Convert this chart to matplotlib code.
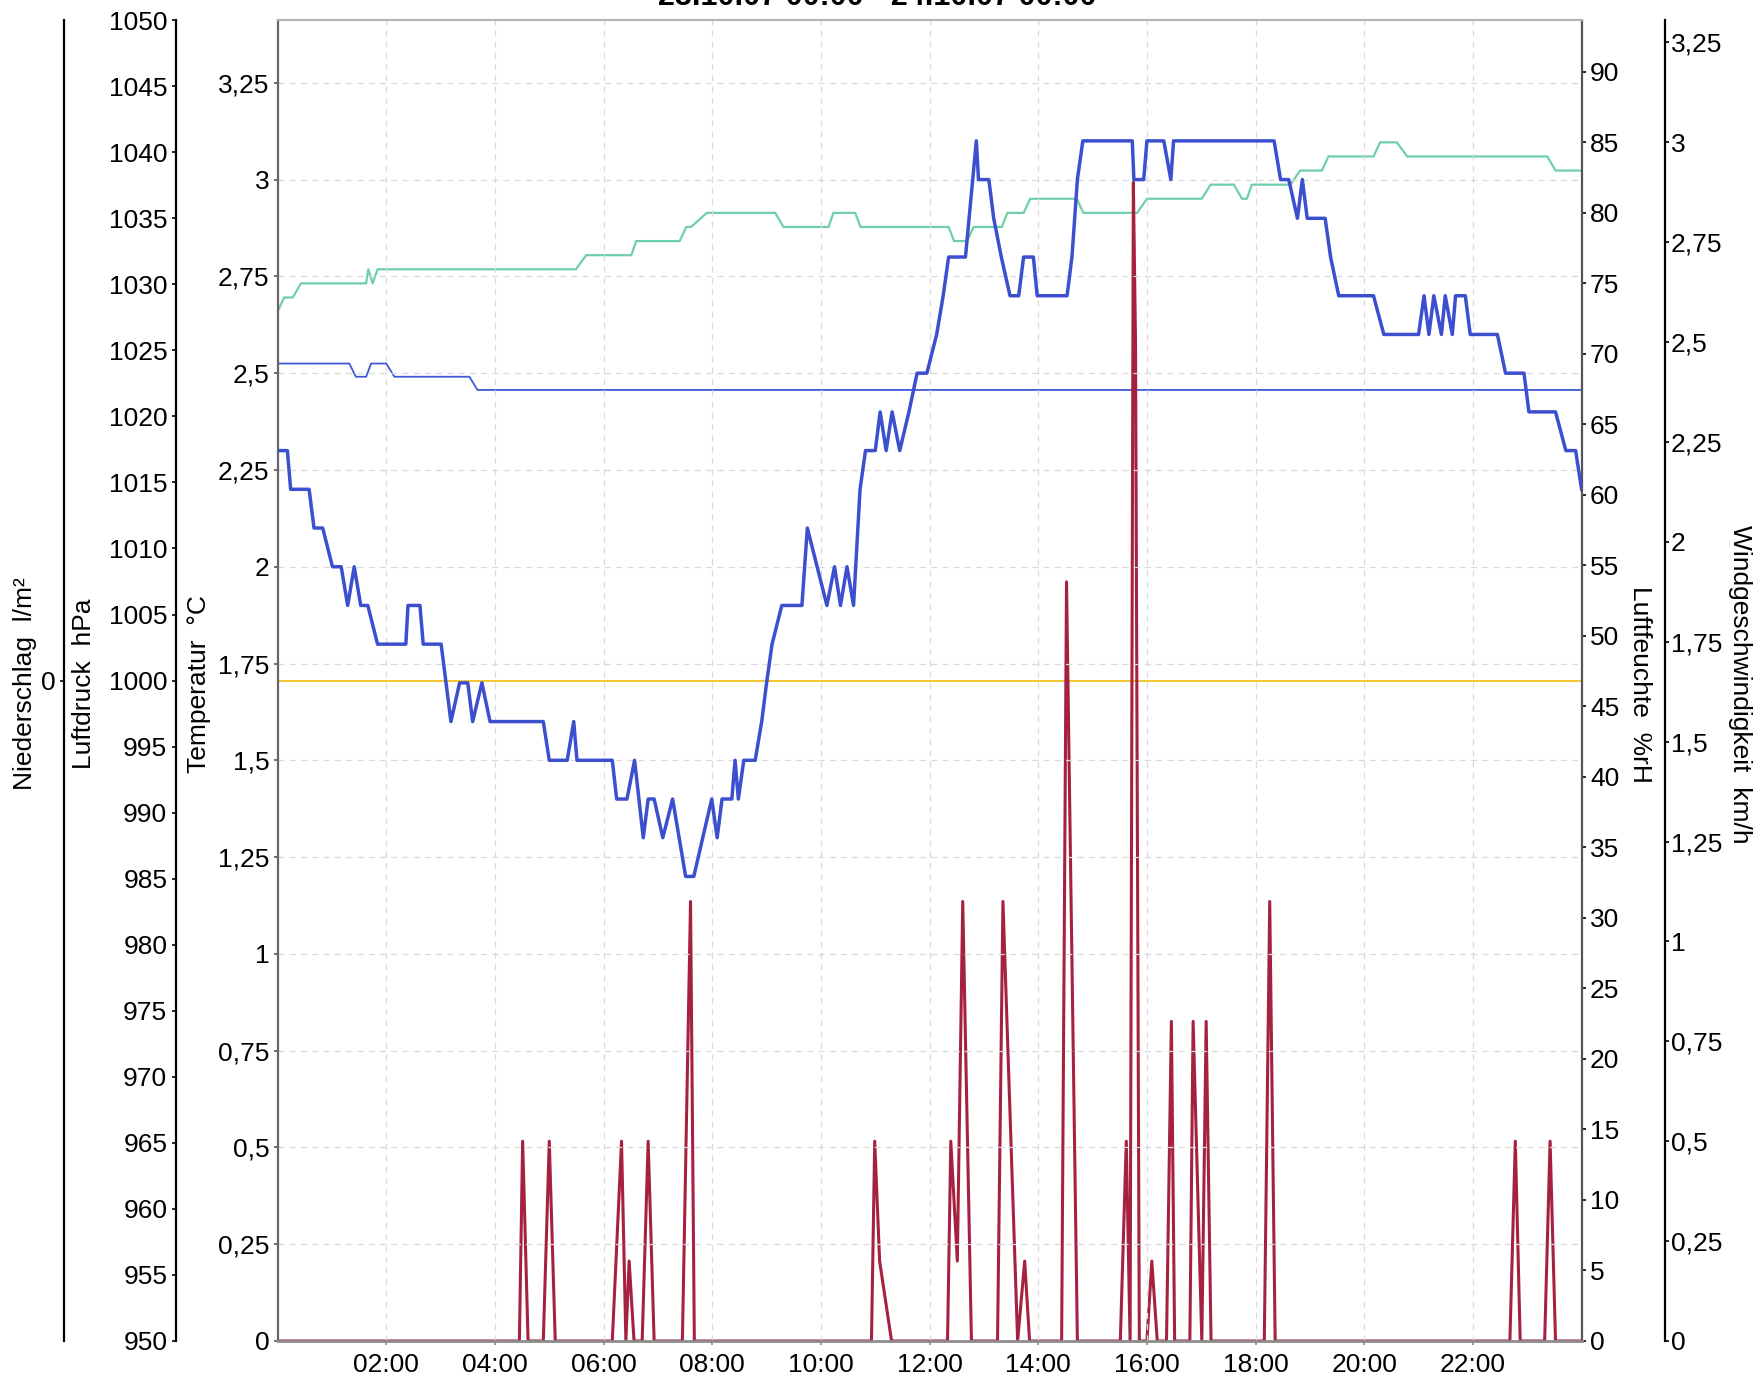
import matplotlib
matplotlib.use('Agg')
import matplotlib.pyplot as plt

plt.rcParams['font.family'] = ['Liberation Sans', 'DejaVu Sans']

# ---------------- data ----------------
title = "23.10.07 00:00 - 24.10.07 00:00"

x_ticks = [2, 4, 6, 8, 10, 12, 14, 16, 18, 20, 22]
x_ticklabels = ["02:00", "04:00", "06:00", "08:00", "10:00", "12:00",
                "14:00", "16:00", "18:00", "20:00", "22:00"]

temp_ticks = [0, 0.25, 0.5, 0.75, 1, 1.25, 1.5, 1.75, 2, 2.25, 2.5, 2.75, 3, 3.25]
temp_ticklabels = ["0", "0,25", "0,5", "0,75", "1", "1,25", "1,5", "1,75",
                   "2", "2,25", "2,5", "2,75", "3", "3,25"]
wind_ticks = temp_ticks
wind_ticklabels = temp_ticklabels
pressure_ticks = list(range(950, 1051, 5))
humidity_ticks = list(range(0, 91, 5))
rain_ticks = [0]

# Temperatur °C
temp_hours = [0.00, 0.18, 0.24, 0.58, 0.67, 0.83, 1.01, 1.17, 1.29, 1.41, 1.53, 1.66,
              1.84, 2.36, 2.40, 2.62, 2.68, 3.01, 3.19, 3.35, 3.50, 3.59, 3.76, 3.91,
              4.89, 5.00, 5.33, 5.45, 5.51, 6.16, 6.24, 6.43, 6.57, 6.73, 6.82, 6.93,
              7.09, 7.27, 7.51, 7.66, 7.99, 8.09, 8.18, 8.36, 8.42, 8.48, 8.58, 8.79,
              8.91, 9.00, 9.10, 9.28, 9.65, 9.75, 10.11, 10.25, 10.36, 10.48, 10.60,
              10.72, 10.82, 11.00, 11.09, 11.20, 11.31, 11.45, 11.62, 11.77, 11.95,
              12.13, 12.25, 12.35, 12.66, 12.86, 12.90, 13.09, 13.18, 13.32, 13.48,
              13.64, 13.73, 13.91, 13.98, 14.53, 14.62, 14.72, 14.82, 15.73, 15.76,
              15.94, 16.00, 16.31, 16.44, 16.49, 18.34, 18.46, 18.61, 18.77, 18.86,
              18.95, 19.28, 19.38, 19.53, 20.17, 20.36, 21.00, 21.10, 21.19, 21.28,
              21.42, 21.49, 21.62, 21.68, 21.86, 21.95, 22.45, 22.60, 22.94, 23.03,
              23.52, 23.71, 23.89, 24.00]
temp_values = [2.3, 2.3, 2.2, 2.2, 2.1, 2.1, 2.0, 2.0, 1.9, 2.0, 1.9, 1.9,
               1.8, 1.8, 1.9, 1.9, 1.8, 1.8, 1.6, 1.7, 1.7, 1.6, 1.7, 1.6,
               1.6, 1.5, 1.5, 1.6, 1.5, 1.5, 1.4, 1.4, 1.5, 1.3, 1.4, 1.4,
               1.3, 1.4, 1.2, 1.2, 1.4, 1.3, 1.4, 1.4, 1.5, 1.4, 1.5, 1.5,
               1.6, 1.7, 1.8, 1.9, 1.9, 2.1, 1.9, 2.0, 1.9, 2.0, 1.9,
               2.2, 2.3, 2.3, 2.4, 2.3, 2.4, 2.3, 2.4, 2.5, 2.5,
               2.6, 2.7, 2.8, 2.8, 3.1, 3.0, 3.0, 2.9, 2.8, 2.7,
               2.7, 2.8, 2.8, 2.7, 2.7, 2.8, 3.0, 3.1, 3.1, 3.0,
               3.0, 3.1, 3.1, 3.0, 3.1, 3.1, 3.0, 3.0, 2.9, 3.0,
               2.9, 2.9, 2.8, 2.7, 2.7, 2.6, 2.6, 2.7, 2.6, 2.7,
               2.6, 2.7, 2.6, 2.7, 2.7, 2.6, 2.6, 2.5, 2.5, 2.4,
               2.4, 2.3, 2.3, 2.2]

# Luftfeuchte %rH
hum_hours = [0.00, 0.12, 0.28, 0.43, 1.63, 1.67, 1.75, 1.84, 5.49, 5.68, 6.51, 6.60,
             7.40, 7.52, 7.61, 7.90, 9.16, 9.31, 10.14, 10.23, 10.63, 10.73, 12.35,
             12.45, 12.69, 12.81, 13.33, 13.43, 13.73, 13.85, 14.71, 14.83, 15.82,
             16.00, 17.01, 17.17, 17.60, 17.75, 17.84, 17.93, 18.64, 18.82, 19.22,
             19.34, 20.17, 20.29, 20.60, 20.79, 23.37, 23.52, 24.00]
hum_values = [73, 74, 74, 75, 75, 76, 75, 76, 76, 77, 77, 78,
              78, 79, 79, 80, 80, 79, 79, 80, 80, 79, 79,
              78, 78, 79, 79, 80, 80, 81, 81, 80, 80,
              81, 81, 82, 82, 81, 81, 82, 82, 83, 83,
              84, 84, 85, 85, 84, 84, 83, 83]

# Luftdruck hPa
press_hours = [0.00, 1.32, 1.44, 1.63, 1.72, 2.00, 2.15, 3.53, 3.68, 24.00]
press_values = [1024, 1024, 1023, 1023, 1024, 1024, 1023, 1023, 1022, 1022]

# Niederschlag l/m²
rain_hours = [0.0, 24.0]
rain_values = [0.0, 0.0]

# Windgeschwindigkeit km/h
wind_hours = [0.00, 4.45, 4.51, 4.61, 4.89, 5.00, 5.11, 6.16, 6.33, 6.41, 6.47, 6.56,
              6.71, 6.82, 6.93, 7.45, 7.60, 7.67, 10.93, 10.99, 11.08, 11.30, 12.33,
              12.39, 12.51, 12.61, 12.77, 13.25, 13.35, 13.62, 13.75, 13.84, 14.43,
              14.52, 14.72, 15.51, 15.62, 15.69, 15.75, 15.79, 15.86, 16.00, 16.09,
              16.19, 16.36, 16.45, 16.51, 16.79, 16.85, 17.01, 17.09, 17.18, 18.16,
              18.26, 18.36, 22.68, 22.78, 22.87, 23.32, 23.42, 23.52, 24.00]
wind_values = [0, 0, 0.5, 0, 0, 0.5, 0, 0, 0.5, 0, 0.2, 0,
               0, 0.5, 0, 0, 1.1, 0, 0, 0.5, 0.2, 0, 0,
               0.5, 0.2, 1.1, 0, 0, 1.1, 0, 0.2, 0, 0,
               1.9, 0, 0, 0.5, 0, 2.9, 2.5, 0, 0, 0.2,
               0, 0, 0.8, 0, 0, 0.8, 0, 0.8, 0, 0,
               1.1, 0, 0, 0.5, 0, 0, 0.5, 0, 0]

# ---------------- figure ----------------
W, H = 1755, 1385
fig = plt.figure(figsize=(W / 100, H / 100), dpi=100)
L, R, T, B = 277.6, 1581.6, 20.1, 1341.0
ax = fig.add_axes([L / W, 1 - B / H, (R - L) / W, (B - T) / H])

FS = 19
TICKLEN = 3.0
def axcoord(px):
    return (px - L) / (R - L)

ax_n = ax.twinx()
ax_p = ax.twinx()
ax_h = ax.twinx()
ax_w = ax.twinx()

# main (temperature) axes
ax.set_xlim(0, 24)
ax.set_ylim(0, 3.412)
ax.set_xticks(x_ticks, x_ticklabels)
ax.set_yticks(temp_ticks, temp_ticklabels)
ax.grid(True, color='#dadada', linestyle=(0, (5, 4)), linewidth=0.9, zorder=0)
ax.set_axisbelow(True)
ax.tick_params(axis='x', labelsize=FS, length=TICKLEN, width=1.2, color='#888888', pad=6)
ax.tick_params(axis='y', labelsize=FS, length=TICKLEN, width=1.2, color='#555555', pad=3)
ax.spines['right'].set_visible(False)
ax.spines['left'].set_color('#666666')
ax.spines['left'].set_linewidth(1.6)
ax.spines['top'].set_color('#b4b4b4')
ax.spines['top'].set_linewidth(1.5)
ax.spines['bottom'].set_color('#8c8c8c')
ax.spines['bottom'].set_linewidth(2.0)

for a in (ax_n, ax_p, ax_h, ax_w):
    for s in ('top', 'bottom', 'left', 'right'):
        a.spines[s].set_visible(False)

# Niederschlag
ax_n.set_ylim(-1, 1)
ax_n.yaxis.tick_left()
ax_n.spines['left'].set_visible(True)
ax_n.spines['left'].set_position(('axes', axcoord(63.8)))
ax_n.spines['left'].set_color('black')
ax_n.spines['left'].set_linewidth(1.6)
ax_n.set_yticks(rain_ticks, ["0"])
ax_n.tick_params(axis='y', labelsize=FS, length=TICKLEN, width=1.2, pad=3)
ax_n.plot(rain_hours, rain_values, color='#f2c21b', linewidth=1.3)

# Luftdruck
ax_p.set_ylim(950, 1050)
ax_p.yaxis.tick_left()
ax_p.spines['left'].set_visible(True)
ax_p.spines['left'].set_position(('axes', axcoord(175.7)))
ax_p.spines['left'].set_color('black')
ax_p.spines['left'].set_linewidth(1.6)
ax_p.set_yticks(pressure_ticks, [str(v) for v in pressure_ticks])
ax_p.tick_params(axis='y', labelsize=FS, length=TICKLEN, width=1.2, pad=3)
ax_p.plot(press_hours, press_values, color='#3f5ad8', linewidth=1.3)

# Luftfeuchte
ax_h.set_ylim(0, 93.67)
ax_h.spines['right'].set_visible(True)
ax_h.spines['right'].set_color('#555555')
ax_h.spines['right'].set_linewidth(1.6)
ax_h.set_yticks(humidity_ticks, [str(v) for v in humidity_ticks])
ax_h.tick_params(axis='y', labelsize=FS, length=TICKLEN, width=1.2, pad=3)
ax_h.plot(hum_hours, hum_values, color='#6fcfa9', linewidth=1.6)

# Windgeschwindigkeit
ax_w.set_ylim(0, 3.306)
ax_w.spines['right'].set_visible(True)
ax_w.spines['right'].set_position(('axes', axcoord(1665.0)))
ax_w.spines['right'].set_color('black')
ax_w.spines['right'].set_linewidth(1.6)
ax_w.set_yticks(wind_ticks, wind_ticklabels)
ax_w.tick_params(axis='y', labelsize=FS, length=TICKLEN, width=1.2, pad=1)
ax_w.plot(wind_hours, wind_values, color='#a5213f', linewidth=2.2)

# temperature on top
ax.set_zorder(5)
ax.patch.set_visible(False)
ax.plot(temp_hours, temp_values, color='#3c4fcf', linewidth=2.5, zorder=3)

# axis titles
def label(xpx, text, rot):
    fig.text(xpx / W, 1 - 684 / H, text, rotation=rot, ha='center', va='center',
             rotation_mode='anchor', fontsize=FS)

label(25, "Niederschlag  l/m²", 90)
label(84, "Luftdruck  hPa", 90)
label(199, "Temperatur  °C", 90)
label(1640, "Luftfeuchte  %rH", 270)
label(1740, "Windgeschwindigkeit  km/h", 270)

# title: only its lower part is inside the picture, as in the reference
fig.text(877.5 / W, 1 - 5 / H, title, ha='center', va='baseline',
         fontsize=22, fontweight='bold')

fig.savefig('out.png', dpi=100, facecolor='white')
